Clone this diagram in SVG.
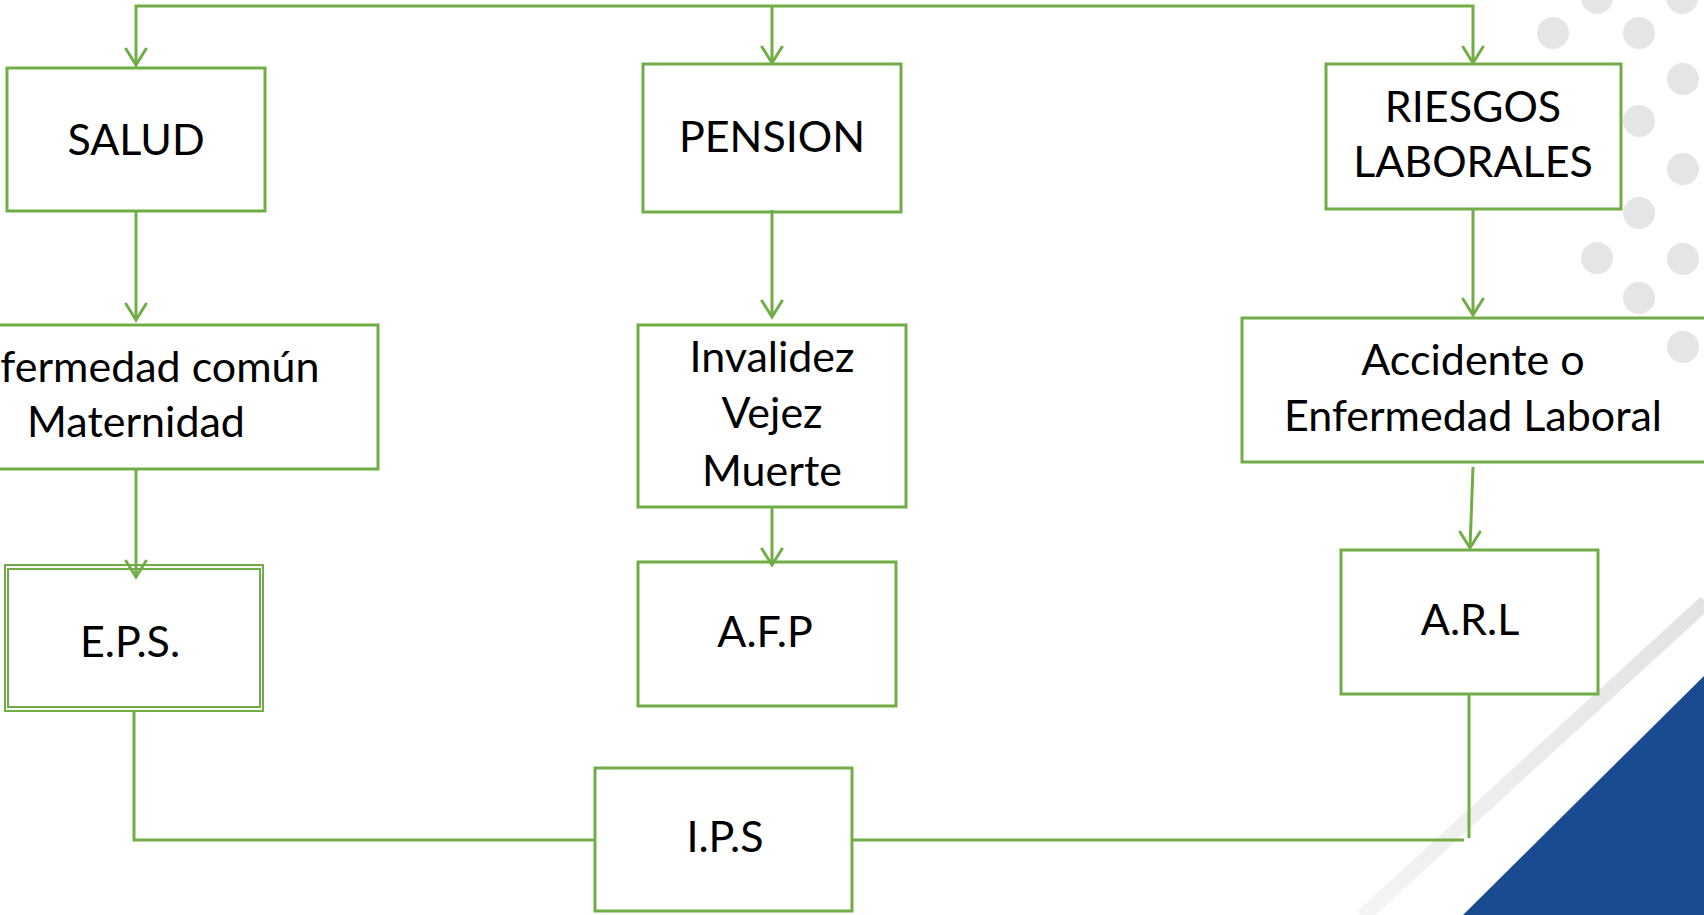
<svg xmlns="http://www.w3.org/2000/svg" width="1704" height="915" viewBox="0 0 1704 915">
<style>
.box{fill:none;stroke:#70ad47;stroke-width:3}
.box2{fill:none;stroke:#70ad47;stroke-width:2}
.ln{fill:none;stroke:#70ad47;stroke-width:3;stroke-linecap:butt}
.ah{fill:none;stroke:#70ad47;stroke-width:3;stroke-linecap:round;stroke-linejoin:miter}
.t{font-family:Lato,"Open Sans",sans-serif;font-size:43px;fill:#000;text-anchor:middle}
.dot{fill:#e5e5e5}
</style>
<defs>
<linearGradient id="gs" x1="1364" y1="915" x2="1704" y2="600" gradientUnits="userSpaceOnUse">
<stop offset="0" stop-color="#f4f4f4"/>
<stop offset="1" stop-color="#e2e2e2"/>
</linearGradient>
</defs>
<rect width="1704" height="915" fill="#ffffff"/>
<g id="decor">
<circle class="dot" cx="1597" cy="-2" r="16"/>
<circle class="dot" cx="1682" cy="-2" r="16"/>
<circle class="dot" cx="1553" cy="33" r="16"/>
<circle class="dot" cx="1639" cy="33" r="16"/>
<circle class="dot" cx="1683" cy="79" r="16"/>
<circle class="dot" cx="1639" cy="121" r="16"/>
<circle class="dot" cx="1683" cy="169" r="16"/>
<circle class="dot" cx="1639" cy="213" r="16"/>
<circle class="dot" cx="1597" cy="258" r="16"/>
<circle class="dot" cx="1683" cy="259" r="16"/>
<circle class="dot" cx="1639" cy="298" r="16"/>
<circle class="dot" cx="1683" cy="347" r="16"/>
<line x1="1362" y1="917" x2="1706" y2="602" stroke="url(#gs)" stroke-width="15"/>
<polygon points="1704,676 1463,915 1704,915" fill="#1a4b91"/>
</g>
<g id="connectors">
<polyline class="ln" points="136,65 136,6 1473,6 1473,63"/>
<line class="ln" x1="772" y1="6" x2="772" y2="63"/>
<path class="ah" d="M126,49 L136,65 L146,49"/>
<path class="ah" d="M762,47 L772,63 L782,47"/>
<path class="ah" d="M1463,47 L1473,63 L1483,47"/>
<line class="ln" x1="136" y1="211" x2="136" y2="320"/>
<path class="ah" d="M126,304 L136,320 L146,304"/>
<line class="ln" x1="772" y1="210" x2="772" y2="317"/>
<path class="ah" d="M762,301 L772,317 L782,301"/>
<line class="ln" x1="1473" y1="209" x2="1473" y2="315"/>
<path class="ah" d="M1463,299 L1473,315 L1483,299"/>
<line class="ln" x1="136" y1="469" x2="136" y2="577"/>
<path class="ah" d="M126,561 L136,577 L146,561"/>
<line class="ln" x1="772" y1="507" x2="772" y2="565"/>
<path class="ah" d="M762,549 L772,565 L782,549"/>
<line class="ln" x1="1473" y1="467" x2="1470" y2="548"/>
<path class="ah" d="M1460,532 L1470,548 L1480,532"/>
<polyline class="ln" points="134,711 134,840 595,840"/>
<polyline class="ln" points="852,840 1464,840"/>
<line class="ln" x1="1469" y1="694" x2="1469" y2="838"/>
</g>
<g id="salud">
<rect class="box" x="7" y="68" width="258" height="143"/>
<text class="t" x="136" y="155">SALUD</text>
</g>
<g id="pension">
<rect class="box" x="643" y="64" width="258" height="148"/>
<text class="t" x="772" y="152">PENSION</text>
</g>
<g id="riesgos">
<rect class="box" x="1326" y="64" width="295" height="145"/>
<text class="t" x="1473" y="122">RIESGOS</text>
<text class="t" x="1473" y="177">LABORALES</text>
</g>
<g id="enfermedad">
<rect class="box" x="-106" y="325" width="484" height="144"/>
<text class="t" x="136" y="382">Enfermedad común</text>
<text class="t" x="136" y="437">Maternidad</text>
</g>
<g id="invalidez">
<rect class="box" x="638" y="325" width="268" height="182"/>
<text class="t" x="772" y="372">Invalidez</text>
<text class="t" x="772" y="428">Vejez</text>
<text class="t" x="772" y="486">Muerte</text>
</g>
<g id="accidente">
<rect class="box" x="1242" y="318" width="465" height="144"/>
<text class="t" x="1473" y="375">Accidente o</text>
<text class="t" x="1473" y="431">Enfermedad Laboral</text>
</g>
<g id="eps">
<rect class="box2" x="5" y="565" width="258" height="146"/>
<rect class="box2" x="8" y="569" width="252" height="138"/>
<text class="t" x="130" y="657">E.P.S.</text>
</g>
<g id="afp">
<rect class="box" x="638" y="562" width="258" height="144"/>
<text class="t" x="765" y="647">A.F.P</text>
</g>
<g id="arl">
<rect class="box" x="1341" y="550" width="257" height="144"/>
<text class="t" x="1470" y="635">A.R.L</text>
</g>
<g id="ips">
<rect class="box" x="595" y="768" width="257" height="143"/>
<text class="t" x="725" y="852">I.P.S</text>
</g>
</svg>
